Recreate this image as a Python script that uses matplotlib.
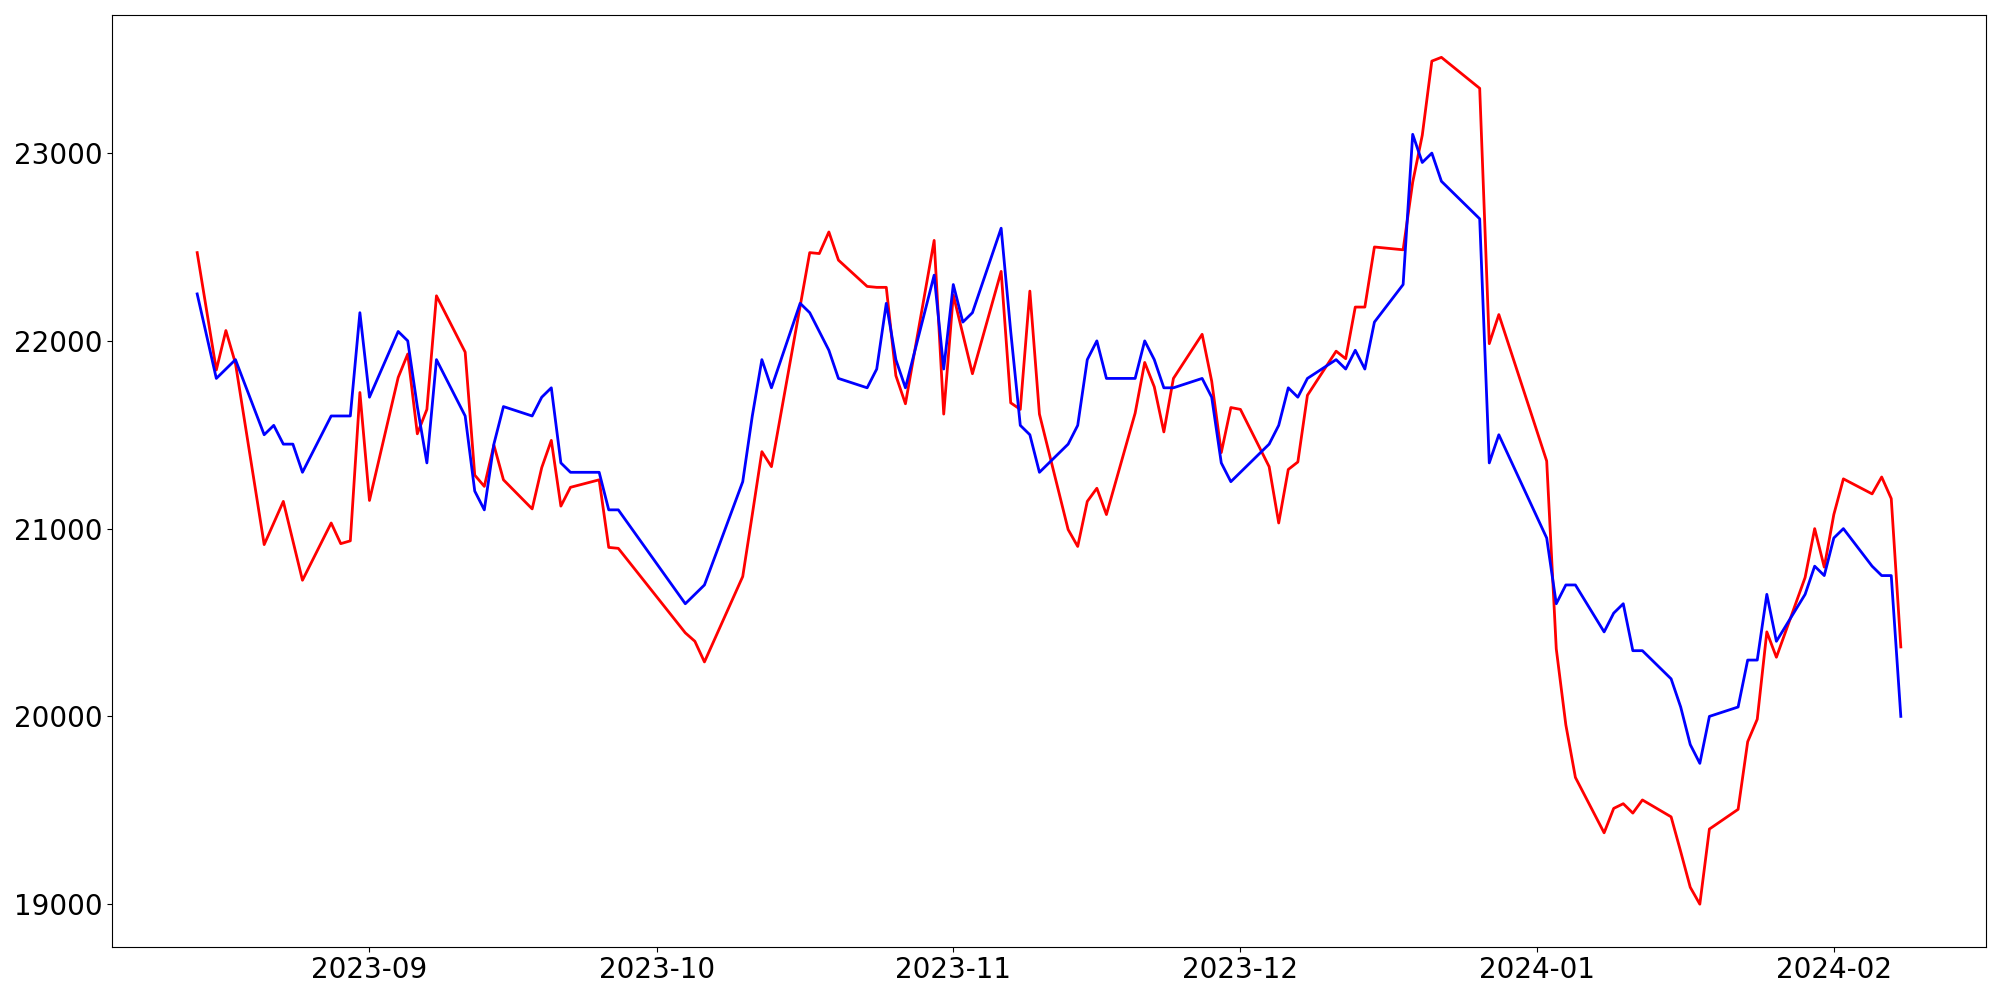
import pandas as pd
import matplotlib
matplotlib.use("Agg")
import matplotlib.pyplot as plt
import matplotlib.dates as mdates

# Trading days (Korean market calendar) from 2023-08-14 to 2024-02-08
holidays = ["2023-08-15", "2023-09-28", "2023-09-29", "2023-10-02", "2023-10-03",
            "2023-10-09", "2023-12-25", "2023-12-29", "2024-01-01"]
dates = pd.bdate_range("2023-08-14", "2024-02-08", freq="C", holidays=holidays)

red_aug = [22470, 21845, 22055, 21880, 20915, 21030, 21145, 20935, 20725, 21030, 20920, 20935, 21725]
red_sep = [21150, 21805, 21930, 21505, 21635, 22240, 21940, 21285, 21225, 21445, 21260, 21105, 21325,
           21470, 21120, 21220, 21260, 20900, 20895]
red_oct = [20445, 20400, 20290, 20745, 21075, 21410, 21330, 22185, 22470, 22465, 22580, 22430, 22290,
           22285, 22285, 21815, 21665, 22535, 21610]
red_nov = [22245, 22035, 21825, 22370, 21670, 21635, 22265, 21610, 20995, 20905, 21145, 21215, 21075,
           21615, 21885, 21755, 21515, 21800, 22035, 21785, 21405, 21645]
red_dec = [21635, 21330, 21030, 21315, 21355, 21710, 21945, 21905, 22180, 22180, 22500, 22485, 22845,
           23095, 23490, 23510, 23345, 21985, 22140]
red_jan = [21360, 20360, 19955, 19675, 19380, 19510, 19535, 19485, 19555, 19465, 19280, 19090, 19000,
           19400, 19505, 19865, 19985, 20450, 20315, 20740, 21000, 20795]
red_feb = [21075, 21265, 21185, 21275, 21160, 20370]

blue_aug = [22250, 21800, 21850, 21900, 21500, 21550, 21450, 21450, 21300, 21600, 21600, 21600, 22150]
blue_sep = [21700, 22050, 22000, 21650, 21350, 21900, 21600, 21200, 21100, 21450, 21650, 21600, 21700,
            21750, 21350, 21300, 21300, 21100, 21100]
blue_oct = [20600, 20650, 20700, 21250, 21600, 21900, 21750, 22200, 22150, 22050, 21950, 21800, 21750,
            21850, 22200, 21900, 21750, 22350, 21850]
blue_nov = [22300, 22100, 22150, 22600, 22050, 21550, 21500, 21300, 21450, 21550, 21900, 22000, 21800,
            21800, 22000, 21900, 21750, 21750, 21800, 21700, 21350, 21250]
blue_dec = [21300, 21450, 21550, 21750, 21700, 21800, 21900, 21850, 21950, 21850, 22100, 22300, 23100,
            22950, 23000, 22850, 22650, 21350, 21500]
blue_jan = [20950, 20600, 20700, 20700, 20450, 20550, 20600, 20350, 20350, 20200, 20050, 19850, 19750,
            20000, 20050, 20300, 20300, 20650, 20400, 20650, 20800, 20750]
blue_feb = [20950, 21000, 20800, 20750, 20750, 20000]

red = red_aug + red_sep + red_oct + red_nov + red_dec + red_jan + red_feb
blue = blue_aug + blue_sep + blue_oct + blue_nov + blue_dec + blue_jan + blue_feb

fig = plt.figure(figsize=(20, 10), dpi=100)
ax = fig.add_axes([0.056, 0.0535, 0.937, 0.9315])
ax.plot(dates, red, color="red", linewidth=2)
ax.plot(dates, blue, color="blue", linewidth=2)

ax.xaxis.set_major_locator(mdates.MonthLocator())
ax.xaxis.set_major_formatter(mdates.DateFormatter("%Y-%m"))
ax.tick_params(axis="both", labelsize=20)

fig.savefig("out.png", dpi=100)
